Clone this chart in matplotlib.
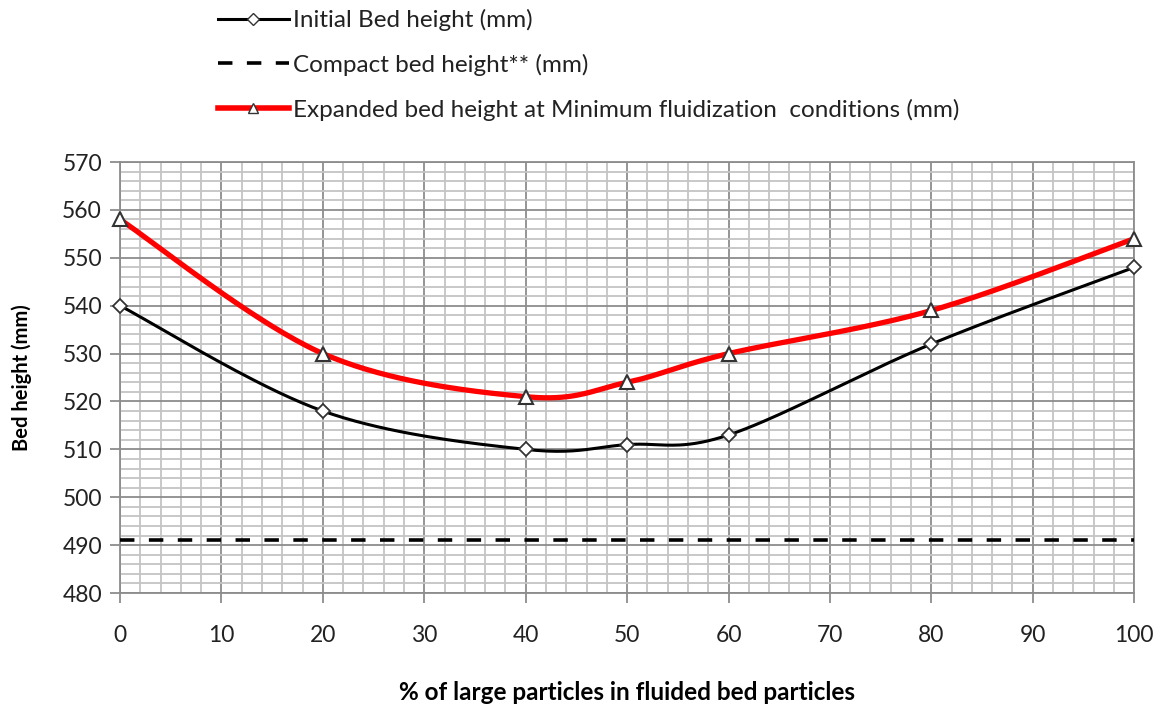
import numpy as np
import matplotlib.pyplot as plt
from matplotlib.ticker import MultipleLocator

plt.rcParams['font.family'] = ['Lato', 'DejaVu Sans']

large_pct = [0, 20, 40, 50, 60, 80, 100]
initial_bed = [540, 518, 510, 511, 513, 532, 548]
expanded_bed = [558, 530, 521, 524, 530, 539, 554]
compact_bed = 491


def smooth(x, y, n=40, tension=0.5):
    # Catmull-Rom style curve through the points, like a spreadsheet "smoothed line"
    x = np.asarray(x, float)
    y = np.asarray(y, float)
    xs, ys = [], []
    for i in range(len(x) - 1):
        p0 = (x[max(i - 1, 0)], y[max(i - 1, 0)])
        p1 = (x[i], y[i])
        p2 = (x[i + 1], y[i + 1])
        p3 = (x[min(i + 2, len(x) - 1)], y[min(i + 2, len(x) - 1)])
        c1 = (p1[0] + (p2[0] - p0[0]) * tension / 3, p1[1] + (p2[1] - p0[1]) * tension / 3)
        c2 = (p2[0] - (p3[0] - p1[0]) * tension / 3, p2[1] - (p3[1] - p1[1]) * tension / 3)
        t = np.linspace(0, 1, n)
        bx = (1-t)**3*p1[0] + 3*(1-t)**2*t*c1[0] + 3*(1-t)*t**2*c2[0] + t**3*p2[0]
        by = (1-t)**3*p1[1] + 3*(1-t)**2*t*c1[1] + 3*(1-t)*t**2*c2[1] + t**3*p2[1]
        xs.extend(bx)
        ys.extend(by)
    return np.array(xs), np.array(ys)


fig = plt.figure(figsize=(11.69, 7.06), dpi=100)
ax = fig.add_axes([0.1027, 0.160, 0.8675, 0.6105])

ax.set_xlim(0, 100)
ax.set_ylim(480, 570)
ax.xaxis.set_major_locator(MultipleLocator(10))
ax.xaxis.set_minor_locator(MultipleLocator(2))
ax.yaxis.set_major_locator(MultipleLocator(10))
ax.yaxis.set_minor_locator(MultipleLocator(2))
ax.grid(which='minor', color='#c4c4c4', lw=1.3)
ax.grid(which='major', color='#8c8c8c', lw=1.3)
ax.set_axisbelow(True)
for s in ax.spines.values():
    s.set_color('#8c8c8c')
    s.set_linewidth(1.3)
ax.tick_params(which='major', length=7, width=1.3, color='#8c8c8c',
               labelsize=16.5, labelcolor='#222222')
ax.tick_params(axis='x', pad=16)
ax.tick_params(axis='y', pad=6)
ax.tick_params(which='minor', length=0)

sx, sy = smooth(large_pct, initial_bed)
ax.plot(sx, sy, color='black', lw=2.2, zorder=3)
ax.plot(large_pct, initial_bed, ls='none', marker='D', ms=7, mfc='white',
        mec='#333333', mew=1.3, zorder=4, clip_on=False)

ax.plot([0, 100], [compact_bed, compact_bed], color='black', lw=2.6,
        dashes=(4, 4), zorder=3)

sx, sy = smooth(large_pct, expanded_bed)
ax.plot(sx, sy, color='#ff0000', lw=3.8, zorder=3)
ax.plot(large_pct, expanded_bed, ls='none', marker='^', ms=10, mfc='white',
        mec='#333333', mew=1.5, zorder=4, clip_on=False)

ax.set_xlabel('% of large particles in fluided bed particles', fontsize=17.5,
              fontweight='bold', labelpad=25)
ax.set_ylabel('Bed height (mm)', fontsize=14.5, fontweight='bold', labelpad=22)

h1 = plt.Line2D([], [], color='black', lw=2.2, marker='D', ms=6, mfc='white', mec='#333333')
h2 = plt.Line2D([], [], color='black', lw=2.6, dashes=(4, 4))
h3 = plt.Line2D([], [], color='#ff0000', lw=4, marker='^', ms=7, mfc='white', mec='#333333')
fig.legend([h1, h2, h3],
           ['Initial Bed height (mm)', 'Compact bed height** (mm)',
            'Expanded bed height at Minimum fluidization  conditions (mm)'],
           loc='upper left', bbox_to_anchor=(0.1678, 1.018), frameon=False,
           fontsize=17.5, handlelength=2.9, handletextpad=0.2, labelspacing=0.93,
           labelcolor='#222222')

fig.savefig('out.png', dpi=100)
